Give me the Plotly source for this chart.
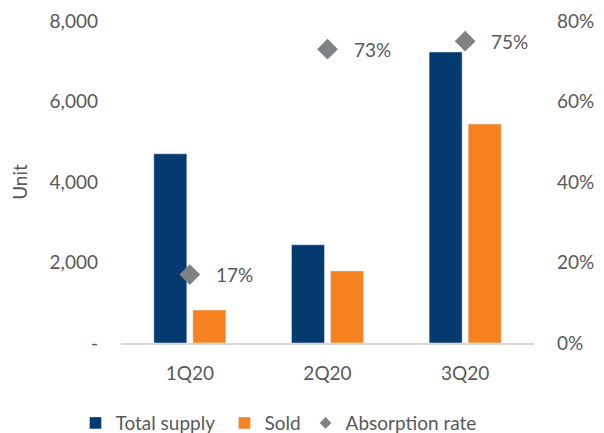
import plotly.graph_objects as go

quarters = ["1Q20", "2Q20", "3Q20"]
total_supply = [4700, 2440, 7230]
sold = [820, 1790, 5440]
absorption_rate = [17, 73, 75]

left_ticks = [0, 2000, 4000, 6000, 8000]
left_ticktext = ["-", "2,000", "4,000", "6,000", "8,000"]
right_ticks = [0, 20, 40, 60, 80]
right_ticktext = ["0%", "20%", "40%", "60%", "80%"]

NAVY = "#043A70"
ORANGE = "#F5821F"
GREY = "#7F8284"
TEXT = "#595959"
FONT = "Lato"

fig = go.Figure()
fig.add_trace(go.Bar(x=quarters, y=total_supply, name="Total supply\u00a0",
                     marker=dict(color=NAVY)))
fig.add_trace(go.Bar(x=quarters, y=sold, name="Sold",
                     marker=dict(color=ORANGE)))
fig.add_trace(go.Scatter(x=quarters, y=absorption_rate, name="Absorption rate",
                         mode="markers", yaxis="y2", showlegend=False,
                         marker=dict(symbol="diamond", size=16, color=GREY)))
# smaller diamond for the legend entry
fig.add_trace(go.Scatter(x=[None], y=[None], name="Absorption rate",
                         mode="markers", yaxis="y2",
                         marker=dict(symbol="diamond", size=9, color=GREY)))

for q, r in zip(quarters, absorption_rate):
    fig.add_annotation(x=q, y=r, yref="y2", text=f"{r}%", showarrow=False,
                       xanchor="left", xshift=24,
                       font=dict(family=FONT, size=19, color=TEXT))

fig.update_layout(
    width=604, height=433,
    margin=dict(l=121, r=70, t=21, b=90, autoexpand=False),
    paper_bgcolor="white", plot_bgcolor="white",
    barmode="group", bargap=0.433, bargroupgap=0.154,
    font=dict(family=FONT, size=19, color=TEXT),
    showlegend=True,
    legend=dict(orientation="h", xref="container", yref="container",
                x=0.125, xanchor="left", y=0.023, yanchor="middle",
                font=dict(family=FONT, size=19, color=TEXT),
                itemwidth=30, tracegroupgap=0),
    xaxis=dict(showgrid=False, showline=True, linecolor="#D9D9D9", linewidth=1.5,
               ticks="", ticklabelstandoff=12, tickfont=dict(size=19, color=TEXT)),
    yaxis=dict(range=[0, 8000], tickvals=left_ticks, ticktext=left_ticktext,
               showgrid=False, zeroline=False, showline=False, ticks="",
               ticklabelstandoff=22,
               title=dict(text="Unit", standoff=16, font=dict(size=19, color=TEXT))),
    yaxis2=dict(range=[0, 80], tickvals=right_ticks, ticktext=right_ticktext,
                overlaying="y", side="right", showgrid=False, zeroline=False,
                showline=False, ticks="", ticklabelstandoff=22),
)

fig.write_html("out.html")
